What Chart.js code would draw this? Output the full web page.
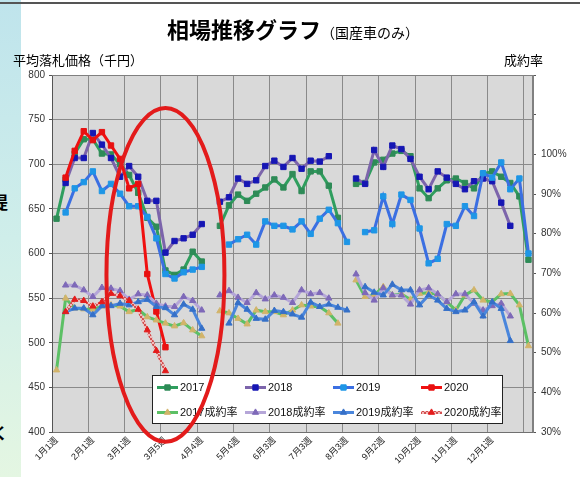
<!DOCTYPE html>
<html><head><meta charset="utf-8">
<script src="https://cdn.jsdelivr.net/npm/chart.js@4.4.1/dist/chart.umd.min.js"></script>
<style>
html,body{margin:0;padding:0;background:#fff;}
#wrap{position:relative;width:580px;height:477px;overflow:hidden;background:#fff;}
#strip{position:absolute;left:0;top:0;width:21px;height:477px;background:linear-gradient(#bfe4ec,#cfeeea 50%,#e4f6e2);}
#topline{position:absolute;left:0;top:2px;width:580px;height:2px;background:#555;}
canvas{position:absolute;left:0;top:0;}
.t{position:absolute;white-space:nowrap;font-family:'Noto Sans CJK JP',sans-serif;color:#000;line-height:1;}
</style></head>
<body><div id="wrap">
<div id="strip"></div><div id="topline"></div>
<div class="t" style="left:-9px;top:193px;font-size:17px;font-weight:bold;">提</div>
<div class="t" style="left:-8px;top:424px;font-size:16px;font-weight:bold;">く</div>
<canvas id="c" width="580" height="477"></canvas>
<div class="t" style="left:167px;top:17px;font-size:22px;font-weight:bold;">相場推移グラフ<span style="font-size:14px;font-weight:normal;">（国産車のみ）</span></div>
<div class="t" style="left:13px;top:53px;font-size:13px;">平均落札価格（千円）</div>
<div class="t" style="left:504px;top:53px;font-size:13px;">成約率</div>
</div>
<script>
// ---- categories (weeks of the year) ----
const monthWeeks = [4,4,5,4,5,4,4,5,4,5,4,5];
const weeks = [];
monthWeeks.forEach((n,m)=>{ for(let w=1;w<=n;w++) weeks.push((m+1)+'月'+w+'週'); });
const labelEvery = 4;
// tick labels shown on the category axis
const tickLabels = ['1月1週','2月1週','3月1週','3月5週','4月4週','5月4週','6月3週','7月3週','8月3週','9月2週','10月2週','11月1週','12月1週'];

// ---- tick values ----
const priceTicks = [400,450,500,550,600,650,700,750,800];
const rateTicks  = [30,40,50,60,70,80,90,100,110,120];
const rateLabels = ['30%','40%','50%','60%','70%','80%','90%','100%','',''];

// ---- series: average winning bid price (thousand yen) ----
const p2017 = [639,683,712,728,728,712,711,700,688,668,640,630,581,576,582,602,591,null,631,654,666,659,667,674,683,674,689,670,692,692,676,640,null,678,679,702,705,712,715,709,673,662,673,682,684,679,673,689,692,686,679,664,593];
const p2018 = [null,679,707,707,735,722,707,686,698,686,659,659,601,614,617,621,633,null,658,663,684,678,682,698,704,697,707,695,704,703,709,null,null,684,678,716,697,721,717,706,686,672,692,685,678,672,681,684,681,657,631,null,null];
const p2019 = [null,646,673,680,692,670,678,667,653,653,641,617,577,572,579,582,585,null,null,610,616,621,610,636,631,631,627,636,622,639,649,634,613,null,624,626,664,633,666,660,628,589,594,633,631,653,642,690,685,702,672,684,600];
const p2020 = [null,685,715,737,727,736,721,706,673,678,577,535,495];

// ---- series: contract rate (%) ----
const r2017 = [45.6,63.7,61.2,61.0,60.9,61.7,62.0,61.7,60.3,60.9,59.0,58.2,57.4,56.7,57.5,55.7,54.2,null,60.5,60.0,58.6,57.2,60.7,60.3,60.3,59.5,60.7,62.0,61.7,61.6,60.0,57.4,null,68.3,64.1,64.5,66.6,64.5,64.8,63.4,64.9,65.1,64.7,62.8,60.7,64.5,65.8,63.2,62.8,64.8,64.9,62.0,51.7];
const r2018 = [null,67.0,67.0,65.8,64.1,66.4,66.2,65.6,63.4,64.8,64.5,62.4,61.7,61.6,64.1,63.1,60.7,null,64.5,65.6,63.9,62.6,65.1,63.5,64.5,63.9,62.6,65.8,64.8,65.1,63.7,null,null,69.8,65.1,63.2,66.3,64.5,64.5,62.2,65.8,66.3,64.8,62.8,64.8,64.8,62.4,60.7,61.8,62.4,59.2,null,null];
const r2019 = [null,60.3,61.2,61.2,59.5,61.8,61.8,62.4,62.0,62.8,63.4,61.6,61.3,59.5,62.2,60.9,56.1,null,null,57.4,62.6,60.9,58.6,58.4,60.6,60.3,59.7,58.9,62.7,61.6,62.2,61.4,60.7,null,66.6,65.2,64.5,67.2,65.8,65.8,62.0,64.5,63.2,61.1,60.3,60.7,62.8,59.2,62.8,61.1,53.0,null,null];
const r2020 = [null,60.3,63.4,63.1,61.7,62.8,64.9,64.3,63.1,60.9,55.7,50.5,45.4];

const seriesNames = ['2017','2018','2019','2020','2017成約率','2018成約率','2019成約率','2020成約率'];

// hand-drawn highlight ellipse (in data units: category index / price)
const highlight = {cx:12.0, cy:576, rxCats:6.5, ryPrice:187};

const FONT = "'Liberation Sans','Noto Sans CJK JP',sans-serif";

// hatched pattern for 2020 rate line
const pc = document.createElement('canvas'); pc.width=4; pc.height=4;
const pctx = pc.getContext('2d');
pctx.fillStyle='#f3b9b9'; pctx.fillRect(0,0,4,4);
pctx.fillStyle='#d25050'; pctx.fillRect(0,0,2,2); pctx.fillRect(2,2,2,2);
const hatch = pctx.createPattern(pc,'repeat');

function ds(label,data,line,marker,style,axis,radius,idx){
  return {label,data,yAxisID:axis,borderColor:line,backgroundColor:marker,
    pointBackgroundColor:marker,pointBorderColor:marker,pointBorderWidth:1,
    pointStyle:style,pointRadius:radius,borderWidth:3,tension:0,spanGaps:false,
    order:10-idx,clip:false};
}
const datasets = [
  ds(seriesNames[0],p2017,'#2f9e5e','#2e8b57','rect','y',3.8,0),
  ds(seriesNames[1],p2018,'#7c64ab','#1616b4','rect','y',3.8,1),
  ds(seriesNames[2],p2019,'#3b6fe2','#1e96e6','rect','y',3.8,2),
  ds(seriesNames[3],p2020,'#f01010','#e81010','rect','y',3.8,3),
  ds(seriesNames[4],r2017,'#5cc065','#d2b46a','triangle','y2',3.6,4),
  ds(seriesNames[5],r2018,'#b5a6d8','#7e69b8','triangle','y2',3.6,5),
  ds(seriesNames[6],r2019,'#4a86dc','#3570c8','triangle','y2',3.6,6),
  ds(seriesNames[7],r2020,hatch,'#e41c1c','triangle','y2',3.6,7)
];

const frame = {
  id:'frame',
  beforeDraw(chart){
    const a=chart.chartArea, c=chart.ctx;
    c.save(); c.fillStyle='#d9d9d9'; c.fillRect(a.left,a.top,a.right-a.left,a.bottom-a.top); c.restore();
  },
  beforeDatasetsDraw(chart){
    const a=chart.chartArea, c=chart.ctx;
    c.save(); c.strokeStyle='#808080'; c.lineWidth=1;
    c.beginPath(); c.moveTo(a.left,a.top+0.5); c.lineTo(a.right,a.top+0.5);
    c.moveTo(a.right-0.5,a.top); c.lineTo(a.right-0.5,a.bottom); c.stroke(); c.restore();
  },
  afterDraw(chart){
    const c=chart.ctx;
    // legend box
    const L={x:152,y:375,w:350,h:48};
    c.save();
    c.fillStyle='#fff'; c.fillRect(L.x,L.y,L.w,L.h);
    c.strokeStyle='#222'; c.lineWidth=1; c.strokeRect(L.x+0.5,L.y+0.5,L.w,L.h);
    const colX=[157,245,333,421], rowY=[387.5,412.5];
    c.font="11px "+FONT; c.textBaseline='middle'; c.textAlign='left';
    chart.data.datasets.forEach((d,i)=>{
      const x=colX[i%4], y=rowY[Math.floor(i/4)];
      c.strokeStyle=d.borderColor; c.lineWidth=3;
      c.beginPath(); c.moveTo(x,y); c.lineTo(x+21,y); c.stroke();
      c.fillStyle=d.pointBackgroundColor; c.strokeStyle=d.pointBorderColor; c.lineWidth=1;
      Chart.helpers.drawPoint(c,{pointStyle:d.pointStyle,rotation:0,radius:d.pointRadius,borderWidth:1},x+10.5,y);
      c.fillStyle='#111'; c.fillText(d.label,x+23,y+0.5);
    });
    // hand-drawn red ellipse
    const xs=chart.scales.x, ys=chart.scales.y;
    const cx=xs.getPixelForValue(highlight.cx), cy=ys.getPixelForValue(highlight.cy);
    const rx=Math.abs(xs.getPixelForValue(highlight.cx+highlight.rxCats)-cx);
    const ry=Math.abs(ys.getPixelForValue(highlight.cy+highlight.ryPrice)-cy);
    c.strokeStyle='#e31b1b'; c.lineWidth=4;
    c.beginPath(); c.ellipse(cx,cy,rx,ry,0,0,Math.PI*2); c.stroke();
    c.restore();
  }
};

new Chart(document.getElementById('c'),{
  type:'line',
  data:{labels:weeks,datasets},
  plugins:[frame],
  options:{
    responsive:false,animation:false,devicePixelRatio:1,
    layout:{padding:{top:75,left:0,right:0,bottom:0}},
    plugins:{legend:{display:false},tooltip:{enabled:false},title:{display:false}},
    scales:{
      x:{type:'category',offset:true,
        grid:{offset:true,color:c=>c.index%labelEvery===0?'#8a8a8a':'rgba(0,0,0,0)',drawTicks:false,lineWidth:1},
        border:{color:'#707070'},
        ticks:{autoSkip:false,maxRotation:45,minRotation:45,padding:3,color:'#222',
          font:{size:9,family:FONT},
          callback:(v,i)=>(i%labelEvery===0 && tickLabels.includes(weeks[i]))?weeks[i]:''},
        afterFit:s=>{s.height=45;}},
      y:{position:'left',min:priceTicks[0],max:priceTicks[priceTicks.length-1],
        afterBuildTicks:s=>{s.ticks=priceTicks.map(v=>({value:v}));},
        grid:{color:'#8a8a8a',tickLength:3,tickColor:'#555'},border:{color:'#555'},
        ticks:{font:{size:10,family:FONT},color:'#333',padding:4},
        afterFit:s=>{s.width=52;}},
      y2:{position:'right',min:rateTicks[0],max:rateTicks[rateTicks.length-1],
        afterBuildTicks:s=>{s.ticks=rateTicks.map(v=>({value:v}));},
        grid:{drawOnChartArea:false,tickLength:3,tickColor:'#555'},border:{color:'#808080'},
        ticks:{font:{size:10,family:FONT},color:'#333',padding:5,callback:(v,i)=>rateLabels[i]},
        afterFit:s=>{s.width=47;}}
    }
  }
});
</script>
</body></html>
